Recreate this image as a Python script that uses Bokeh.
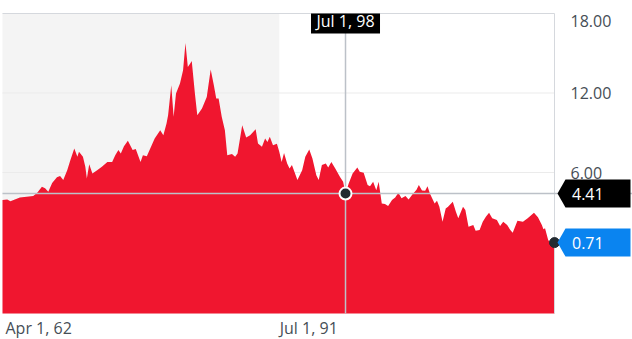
import pandas as pd
from bokeh.plotting import figure
from bokeh.models import Range1d, BoxAnnotation, Label, PolyAnnotation
from bokeh.embed import file_html
from bokeh.resources import INLINE

# ---- data ----
dates = [
    "1962-04", "1962-10", "1963-02", "1964-02", "1965-07", "1965-12", "1966-06", "1966-10",
    "1967-02", "1967-07", "1968-01", "1968-05", "1968-09", "1969-02", "1969-06", "1969-11",
    "1970-03", "1970-05", "1970-10", "1971-01", "1971-03", "1971-06", "1971-10", "1972-04",
    "1972-10", "1973-05", "1973-11", "1974-03", "1974-07", "1974-10", "1975-02", "1975-07",
    "1976-01", "1976-05", "1976-11", "1977-02", "1977-07", "1978-05", "1978-12", "1979-04",
    "1979-08", "1979-10", "1980-02", "1980-05", "1980-08", "1981-01", "1981-05", "1981-08",
    "1981-11", "1982-02", "1982-04", "1982-08", "1982-11", "1983-05", "1983-11", "1984-04",
    "1984-08", "1984-11", "1985-02", "1985-06", "1985-10", "1986-01", "1986-07", "1986-11",
    "1987-02", "1987-08", "1988-01", "1988-06", "1989-01", "1989-04", "1989-09", "1990-01",
    "1990-04", "1990-07", "1990-11", "1991-04", "1991-07", "1991-10", "1992-01", "1992-05",
    "1992-08", "1992-11", "1993-06", "1993-12", "1994-04", "1994-09", "1995-01", "1995-06",
    "1995-09", "1996-01", "1996-06", "1996-09", "1997-01", "1997-06", "1997-12", "1998-04",
    "1998-07", "1998-11", "1999-04", "1999-10", "2000-01", "2000-06", "2000-11", "2001-02",
    "2001-06", "2001-10", "2002-01", "2002-05", "2002-09", "2003-01", "2003-06", "2003-10",
    "2004-02", "2004-06", "2004-11", "2005-03", "2005-08", "2006-01", "2006-04", "2006-08",
    "2006-12", "2007-03", "2007-06", "2007-12", "2008-03", "2008-06", "2008-10", "2009-02",
    "2009-05", "2009-11", "2010-03", "2010-06", "2010-12", "2011-03", "2011-07", "2012-01",
    "2012-04", "2012-09", "2013-01", "2013-05", "2013-09", "2014-01", "2014-07", "2014-11",
    "2015-03", "2015-08", "2015-12", "2016-03", "2016-09", "2017-04", "2017-10", "2018-06",
    "2018-11", "2019-04", "2019-06", "2019-08", "2019-12", "2020-04", "2020-08",
]
values = [
    3.92, 3.97, 3.84, 4.12, 4.22, 4.47, 4.92, 4.82,
    4.55, 5.20, 5.65, 5.73, 5.43, 6.18, 6.93, 7.81,
    7.18, 7.56, 7.18, 6.43, 5.55, 6.63, 5.93, 6.18,
    6.43, 6.80, 6.80, 7.31, 7.69, 7.44, 7.99, 8.39,
    7.70, 7.78, 6.80, 7.31, 7.23, 8.57, 9.19, 8.82,
    9.70, 10.32, 12.58, 10.20, 11.96, 12.71, 13.71, 15.77,
    13.96, 14.22, 14.42, 11.96, 10.32, 10.83, 11.70, 13.77,
    12.58, 11.58, 11.58, 10.20, 9.19, 7.31, 7.39, 7.18,
    7.44, 9.57, 8.64, 8.82, 9.27, 8.19, 7.94, 8.57,
    8.31, 8.69, 8.06, 8.17, 7.56, 6.80, 7.48, 6.68,
    6.31, 6.56, 5.43, 6.18, 7.18, 7.74, 7.06, 5.80,
    5.43, 6.56, 6.68, 6.38, 6.80, 6.31, 5.67, 5.30,
    4.41, 5.18, 5.93, 6.38, 6.05, 5.98, 5.05, 4.97,
    5.30, 4.67, 5.30, 3.67, 3.62, 3.47, 3.92, 4.12,
    4.47, 4.05, 4.22, 3.97, 4.35, 4.70, 5.05, 4.65,
    4.62, 4.97, 4.42, 3.67, 3.87, 3.41, 2.28, 3.29,
    3.41, 3.79, 3.04, 2.54, 3.41, 3.17, 1.91, 2.03,
    1.61, 1.66, 2.28, 2.66, 2.96, 2.54, 2.41, 1.96,
    2.28, 2.03, 1.66, 1.45, 2.36, 2.28, 2.54, 2.96,
    2.62, 2.03, 1.71, 1.79, 0.90, 0.60, 0.71,
]

y_ticks = [6, 12, 18]
x_tick_dates = ["1962-04-01", "1991-07-01"]
x_tick_labels = ["Apr 1, 62", "Jul 1, 91"]
shade_end = "1991-07-01"
cross_date = "1998-07-01"
cross_value = 4.41
cross_label = "Jul 1, 98"
last_value = 0.71
last_label = "0.71"

RED = "#f0162f"
TEXT = "#464e56"
FONT = "Open Sans"
DOT = "#232a31"
BLUE = "#0a84f0"
GRID = "#ebebeb"
EDGE = "#d5d8dd"
CROSS = "#bcc1c8"

def ms(d):
    return pd.Timestamp(d).timestamp() * 1000.0

x = pd.to_datetime(dates)
x0_ms, x1_ms = ms(x[0]), ms(x[-1])
y_min, y_max = -4.64, 18.0

# plot area inside the 632x339 canvas: left 2, right 78, top 13, bottom 26 px margins
W, H = 632, 339
L, R, T, B = 2, 78, 13, 26
mpp = (x1_ms - x0_ms) / (W - L - R)      # ms per pixel
ypp = (y_max - y_min) / (H - T - B)      # value per pixel

p = figure(width=W, height=H, output_backend="svg", toolbar_location=None,
           x_axis_location=None, y_axis_location=None,
           x_range=Range1d(x0_ms - L * mpp, x1_ms + R * mpp),
           y_range=Range1d(y_min - B * ypp, y_max + T * ypp),
           min_border=0)
p.outline_line_color = None
p.grid.visible = False

# shaded period
p.add_layout(BoxAnnotation(left=x0_ms, right=ms(shade_end), bottom=y_min, top=y_max,
                           fill_color="#f4f4f4", fill_alpha=1, line_color=None, level="image"))

# horizontal grid lines (below the area)
p.segment(x0=x0_ms, x1=x1_ms, y0=y_ticks[:2], y1=y_ticks[:2], line_color=GRID, line_width=1)

# area
p.varea(x=x, y1=y_min, y2=values, fill_color=RED, fill_alpha=1)

# plot edges
p.segment(x0=x0_ms, x1=x1_ms, y0=y_ticks[2], y1=y_ticks[2], line_color=EDGE, line_width=1)
p.segment(x0=x1_ms, x1=x1_ms, y0=y_min, y1=y_max, line_color=EDGE, line_width=1)

# crosshair
cx = ms(cross_date)
p.segment(x0=cx, x1=cx, y0=y_min, y1=y_max, line_color=CROSS, line_width=1.5)
p.segment(x0=x0_ms, x1=x1_ms + R * mpp, y0=cross_value, y1=cross_value,
          line_color=CROSS, line_width=1.5)
p.scatter([cx], [cross_value], size=12, fill_color=DOT, line_color="white", line_width=2)

# y tick labels at the right
for t in y_ticks:
    p.add_layout(Label(x=x1_ms, y=t, x_offset=16, y_offset=(-7.5 if t == y_ticks[-1] else 0),
                       text=f"{t:.2f}", text_align="left", text_baseline="middle",
                       text_color=TEXT, text_font=FONT, text_font_size="16px"))

# x tick labels, left-aligned on their dates
for d, t, off in zip(x_tick_dates, x_tick_labels, [3, 0.5]):
    p.add_layout(Label(x=ms(d), y=y_min, x_offset=off, y_offset=-14, text=t,
                       text_align="left", text_baseline="middle", text_color=TEXT,
                       text_font=FONT, text_font_size="16px"))

# date tag on top
p.add_layout(BoxAnnotation(left=cx - 34.5 * mpp, right=cx + 34.5 * mpp,
                           top=y_max, bottom=y_max - 20 * ypp,
                           fill_color="black", fill_alpha=1, line_color=None, level="overlay"))
p.add_layout(Label(x=cx, y=y_max - 7.5 * ypp, text=cross_label, text_align="center",
                   text_baseline="middle", text_color="white", text_font=FONT,
                   text_font_size="16px", level="overlay"))

# value tags on the right
def tag(v, text, color):
    h = 14 * ypp
    tip, left, right = x1_ms + 3 * mpp, x1_ms + 11 * mpp, x1_ms + 76 * mpp
    p.add_layout(PolyAnnotation(xs=[tip, left, right, right, left],
                                ys=[v, v + h, v + h, v - h, v - h],
                                fill_color=color, fill_alpha=1, line_color=None,
                                level="overlay"))
    p.add_layout(Label(x=x1_ms, y=v, x_offset=17.5, text=text, text_align="left",
                       text_baseline="middle", text_color="white", text_font=FONT,
                       text_font_size="16px", level="overlay"))

tag(cross_value, f"{cross_value:.2f}", "#000000")
tag(last_value, last_label, BLUE)

# last value dot
p.scatter([x1_ms], [last_value], size=10, fill_color=DOT, line_color=DOT, line_width=1)

open("out.html", "w").write(file_html(p, INLINE))
